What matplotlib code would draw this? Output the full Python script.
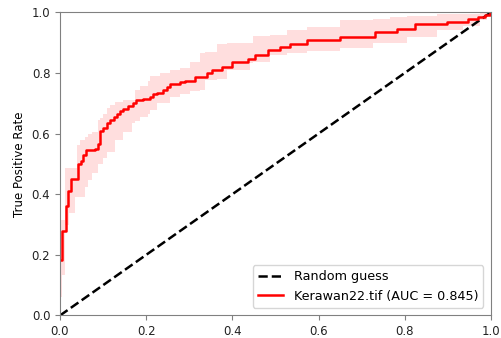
import numpy as np
import matplotlib
matplotlib.use("Agg")
import matplotlib.pyplot as plt

# ROC curve (step points)
fpr = [0.0, 0.005, 0.013, 0.019, 0.026, 0.042, 0.049, 0.053, 0.060, 0.081,
       0.089, 0.093, 0.100, 0.109, 0.116, 0.125, 0.132, 0.139, 0.146, 0.158,
       0.169, 0.176, 0.193, 0.209, 0.216, 0.225, 0.239, 0.248, 0.255, 0.278,
       0.290, 0.313, 0.341, 0.353, 0.376, 0.399, 0.436, 0.452, 0.483, 0.510,
       0.534, 0.573, 0.650, 0.731, 0.782, 0.824, 0.898, 0.947, 0.970, 0.986,
       0.998, 1.0]
tpr = [0.183, 0.28, 0.36, 0.41, 0.45, 0.50, 0.51, 0.53, 0.545, 0.55,
       0.565, 0.61, 0.62, 0.635, 0.645, 0.655, 0.665, 0.675, 0.68, 0.69,
       0.70, 0.71, 0.715, 0.72, 0.73, 0.735, 0.745, 0.755, 0.765, 0.77,
       0.775, 0.785, 0.80, 0.81, 0.82, 0.835, 0.845, 0.86, 0.875, 0.885,
       0.895, 0.91, 0.92, 0.935, 0.945, 0.96, 0.968, 0.978, 0.985, 0.99,
       1.0, 1.0]

# +/- 1 std band
band_fpr = [0.0, 0.005, 0.012, 0.021, 0.035, 0.039, 0.046, 0.058, 0.065, 0.074,
            0.088, 0.093, 0.100, 0.109, 0.116, 0.128, 0.146, 0.167, 0.174, 0.186,
            0.204, 0.209, 0.225, 0.232, 0.255, 0.278, 0.302, 0.325, 0.336, 0.364,
            0.387, 0.441, 0.448, 0.487, 0.527, 0.573, 0.650, 0.726, 0.766, 0.805,
            0.875, 0.935, 0.974, 0.990, 1.0]
band_upper = [0.315, 0.315, 0.487, 0.487, 0.487, 0.563, 0.58, 0.59, 0.60, 0.605,
              0.645, 0.65, 0.665, 0.685, 0.695, 0.705, 0.71, 0.71, 0.745, 0.757,
              0.775, 0.79, 0.79, 0.80, 0.81, 0.817, 0.837, 0.865, 0.87, 0.895,
              0.90, 0.90, 0.922, 0.925, 0.94, 0.95, 0.975, 0.978, 0.985, 0.988,
              0.993, 0.995, 1.0, 1.0, 1.0]
band_lower = [0.06, 0.134, 0.30, 0.338, 0.39, 0.39, 0.39, 0.424, 0.447, 0.47,
              0.50, 0.50, 0.52, 0.54, 0.54, 0.58, 0.605, 0.635, 0.64, 0.655,
              0.665, 0.678, 0.70, 0.70, 0.72, 0.73, 0.74, 0.745, 0.777, 0.78,
              0.81, 0.833, 0.835, 0.86, 0.866, 0.873, 0.883, 0.90, 0.90, 0.92,
              0.94, 0.955, 0.975, 0.99, 1.0]

auc_value = 0.845
label = "Kerawan22.tif"

plt.rcParams['font.family'] = 'DejaVu Sans'
plt.rcParams['font.size'] = 8.5

fig = plt.figure(figsize=(5.02, 3.38), dpi=100)
ax = fig.add_axes([0.1195, 0.0666, 0.8585, 0.897])

ax.plot([0, 1], [0, 1], '--', color='black', lw=1.8, label='Random guess')
ax.fill_between(band_fpr, band_lower, band_upper, step='post',
                color='red', alpha=0.13, lw=0)
ax.plot(fpr, tpr, drawstyle='steps-post', color='red', lw=1.8,
        label='%s (AUC = %.3f)' % (label, auc_value))

ax.set_xlim(0, 1)
ax.set_ylim(0, 1)
ax.set_xticks(np.arange(0, 1.01, 0.2))
ax.set_yticks(np.arange(0, 1.01, 0.2))
ax.set_ylabel('True Positive Rate')
for s in ax.spines.values():
    s.set_color('#808080')
ax.tick_params(color='#808080', labelcolor='#222222')
ax.legend(loc='lower right', fontsize=9.2, borderaxespad=0.6)

plt.savefig("out.png", dpi=100)
